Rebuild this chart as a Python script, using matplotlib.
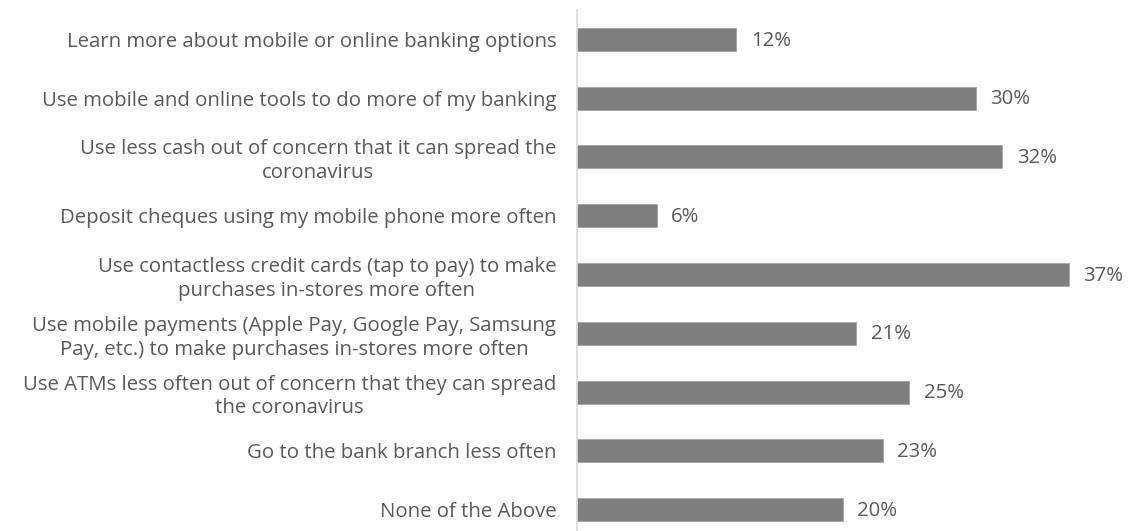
import numpy as np
import matplotlib.pyplot as plt

# survey responses, top to bottom
labels = [
    "Learn more about mobile or online banking options",
    "Use mobile and online tools to do more of my banking",
    "Use less cash out of concern that it can spread the\ncoronavirus",
    "Deposit cheques using my mobile phone more often",
    "Use contactless credit cards (tap to pay) to make\npurchases in-stores more often",
    "Use mobile payments (Apple Pay, Google Pay, Samsung\nPay, etc.) to make purchases in-stores more often",
    "Use ATMs less often out of concern that they can spread\nthe coronavirus",
    "Go to the bank branch less often",
    "None of the Above",
]
values = [12, 30, 32, 6, 37, 21, 25, 23, 20]

text_color = "#595959"
bar_color = "#7f7f7f"
fs = 14.7

plt.rcParams['font.family'] = ['Open Sans', 'DejaVu Sans']

fig = plt.figure(figsize=(11.39, 5.31), dpi=100)
ax = fig.add_axes([577 / 1139, -8 / 531, 554 / 1139, 529 / 531])

y = np.arange(len(values))
ax.barh(y, values, height=0.39, color=bar_color, edgecolor="#a6a6a6", linewidth=0.6)
ax.set_ylim(len(values) - 0.5, -0.5)
ax.set_xlim(0, 41.7)

for yi, v in zip(y, values):
    ax.text(v + 1.1, yi + 0.02, f"{v}%", va="center", ha="left", fontsize=fs, color=text_color)

ax.set_yticks(y)
ax.set_yticklabels(labels, fontsize=fs, color=text_color, multialignment="center",
                   linespacing=1.25)
ax.tick_params(axis="y", length=0, pad=15)
ax.set_xticks([])
for side in ["top", "right", "bottom"]:
    ax.spines[side].set_visible(False)
ax.spines["left"].set_color("#d9d9d9")
ax.spines["left"].set_linewidth(1.2)

fig.savefig("out.png", dpi=100)
